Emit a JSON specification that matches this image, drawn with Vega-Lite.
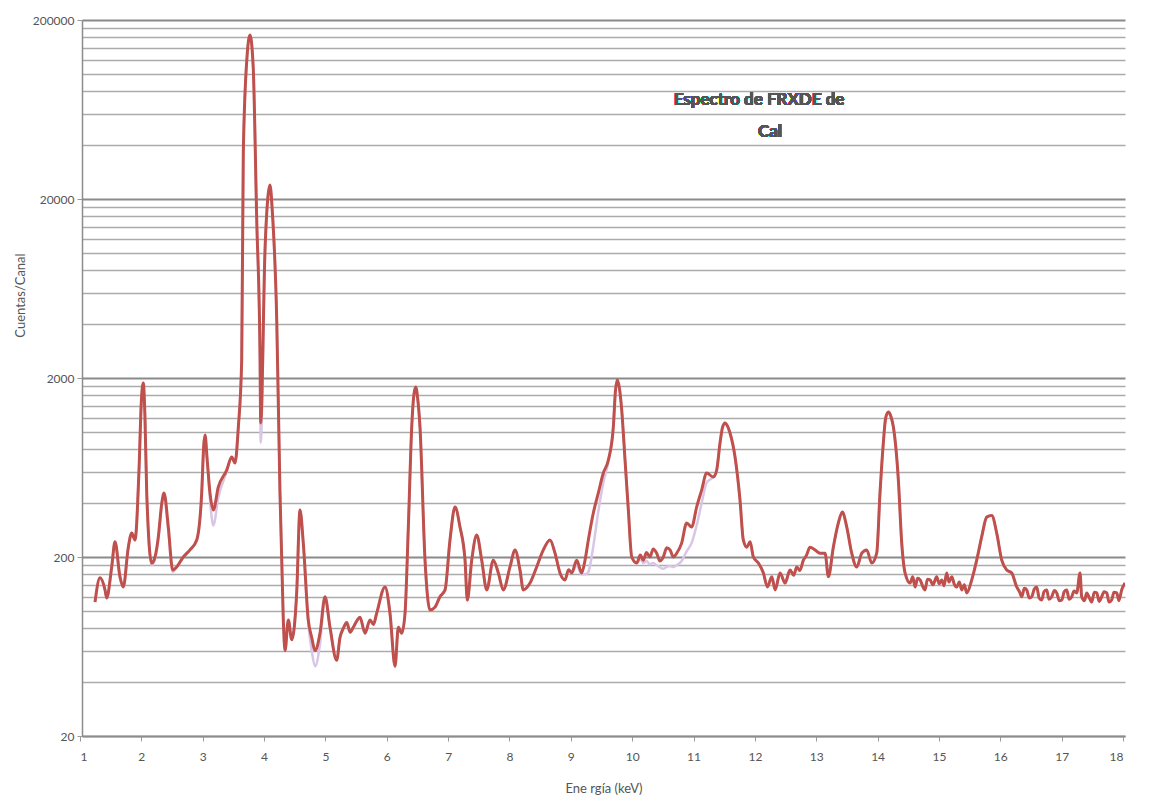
{
  "$schema": "https://vega.github.io/schema/vega-lite/v6.json",
  "autosize": "none",
  "width": 1043,
  "height": 716,
  "padding": {"left": 82, "top": 20, "right": 31, "bottom": 71},
  "background": "white",
  "config": {"view": {"stroke": null}},
  "data": {"values": [
    {"E":1.212,"c":112,"b":112},{"E":1.293,"c":153,"b":153},{"E":1.375,"c":131,"b":131},{"E":1.403,"c":118,"b":118},
    {"E":1.484,"c":176,"b":176},{"E":1.538,"c":243,"b":243},{"E":1.619,"c":155,"b":155},{"E":1.673,"c":136,"b":136},
    {"E":1.755,"c":227,"b":227},{"E":1.810,"c":272,"b":272},{"E":1.864,"c":249,"b":249},{"E":1.929,"c":612,"b":612},
    {"E":1.968,"c":1500,"b":1500},{"E":1.999,"c":1876,"b":1876},{"E":2.025,"c":1250,"b":1250},{"E":2.055,"c":456,"b":456},
    {"E":2.136,"c":185,"b":180},{"E":2.190,"c":200,"b":195},
    {"E":2.244,"c":259,"b":250},{"E":2.300,"c":400,"b":385},{"E":2.337,"c":456,"b":440},{"E":2.407,"c":294,"b":280},{"E":2.478,"c":169,"b":165},
    {"E":2.544,"c":176,"b":176},{"E":2.651,"c":200,"b":200},{"E":2.760,"c":219,"b":219},{"E":2.870,"c":249,"b":249},
    {"E":2.951,"c":456,"b":456},{"E":2.985,"c":850,"b":850},{"E":3.005,"c":962,"b":962},{"E":3.040,"c":700,"b":700},{"E":3.086,"c":456,"b":420},{"E":3.140,"c":366,"b":300},
    {"E":3.222,"c":492,"b":430},{"E":3.359,"c":612,"b":600},{"E":3.440,"c":724,"b":724},{"E":3.494,"c":670,"b":670},
    {"E":3.548,"c":1064,"b":1064},{"E":3.603,"c":2522,"b":2522},{"E":3.629,"c":36140,"b":36140},{"E":3.690,"c":125000,"b":125000},{"E":3.738,"c":164900,"b":164900},
    {"E":3.790,"c":110000,"b":110000},{"E":3.848,"c":15270,"b":15270},{"E":3.901,"c":2760,"b":2600},{"E":3.913,"c":1122,"b":870},{"E":3.983,"c":10380,"b":10380},
    {"E":4.030,"c":20500,"b":20500},{"E":4.064,"c":23940,"b":23940},{"E":4.100,"c":17500,"b":17500},{"E":4.174,"c":4220,"b":4220},{"E":4.227,"c":456,"b":456},{"E":4.281,"c":89,"b":89},
    {"E":4.309,"c":60,"b":60},{"E":4.363,"c":89,"b":89},{"E":4.418,"c":69,"b":69},{"E":4.499,"c":126,"b":126},
    {"E":4.553,"c":366,"b":366},{"E":4.607,"c":239,"b":239},{"E":4.688,"c":89,"b":85},{"E":4.744,"c":71,"b":60},
    {"E":4.798,"c":60,"b":49},{"E":4.879,"c":75,"b":65},{"E":4.961,"c":120,"b":120},{"E":5.042,"c":81,"b":81},
    {"E":5.151,"c":53,"b":53},{"E":5.205,"c":71,"b":71},{"E":5.260,"c":80,"b":80},{"E":5.315,"c":86,"b":86},
    {"E":5.370,"c":76,"b":76},{"E":5.422,"c":81,"b":81},{"E":5.480,"c":88,"b":88},{"E":5.531,"c":92,"b":92},
    {"E":5.613,"c":75,"b":75},{"E":5.694,"c":89,"b":89},{"E":5.750,"c":84,"b":84},{"E":5.803,"c":97,"b":97},
    {"E":5.939,"c":136,"b":136},{"E":6.020,"c":97,"b":97},{"E":6.102,"c":49,"b":49},{"E":6.156,"c":81,"b":81},
    {"E":6.211,"c":75,"b":75},{"E":6.265,"c":97,"b":97},{"E":6.319,"c":294,"b":294},{"E":6.374,"c":1064,"b":1064},
    {"E":6.410,"c":1620,"b":1620},{"E":6.439,"c":1782,"b":1782},{"E":6.470,"c":1550,"b":1550},{"E":6.509,"c":1064,"b":1064},{"E":6.591,"c":192,"b":192},{"E":6.672,"c":101,"b":101},
    {"E":6.754,"c":105,"b":105},{"E":6.835,"c":120,"b":120},{"E":6.917,"c":131,"b":131},{"E":6.998,"c":249,"b":249},
    {"E":7.080,"c":380,"b":380},{"E":7.161,"c":294,"b":294},{"E":7.243,"c":192,"b":192},{"E":7.280,"c":115,"b":115},
    {"E":7.352,"c":192,"b":192},{"E":7.434,"c":265,"b":265},{"E":7.515,"c":192,"b":192},{"E":7.597,"c":131,"b":131},
    {"E":7.704,"c":192,"b":192},{"E":7.786,"c":163,"b":163},{"E":7.867,"c":131,"b":131},{"E":7.976,"c":176,"b":176},
    {"E":8.058,"c":219,"b":219},{"E":8.139,"c":169,"b":169},{"E":8.193,"c":131,"b":131},{"E":8.302,"c":143,"b":143},
    {"E":8.411,"c":176,"b":176},{"E":8.519,"c":219,"b":219},{"E":8.628,"c":249,"b":249},{"E":8.710,"c":210,"b":210},
    {"E":8.791,"c":163,"b":163},{"E":8.873,"c":149,"b":149},{"E":8.930,"c":170,"b":170},{"E":8.982,"c":163,"b":163},
    {"E":9.063,"c":192,"b":180},{"E":9.145,"c":163,"b":160},{"E":9.199,"c":192,"b":160},{"E":9.253,"c":249,"b":165},
    {"E":9.334,"c":352,"b":230},{"E":9.416,"c":456,"b":360},{"E":9.497,"c":589,"b":520},{"E":9.579,"c":696,"b":680},
    {"E":9.660,"c":1064,"b":1064},{"E":9.695,"c":1700,"b":1700},{"E":9.725,"c":1948,"b":1948},{"E":9.760,"c":1750,"b":1750},{"E":9.797,"c":1324,"b":1324},{"E":9.851,"c":696,"b":696},
    {"E":9.905,"c":366,"b":366},{"E":9.960,"c":200,"b":200},{"E":10.042,"c":185,"b":185},{"E":10.100,"c":205,"b":195},
    {"E":10.149,"c":192,"b":185},{"E":10.200,"c":212,"b":190},{"E":10.258,"c":200,"b":182},{"E":10.310,"c":222,"b":185},
    {"E":10.367,"c":210,"b":180},{"E":10.420,"c":190,"b":175},{"E":10.475,"c":200,"b":172},{"E":10.530,"c":225,"b":176},
    {"E":10.584,"c":219,"b":178},{"E":10.640,"c":200,"b":176},{"E":10.693,"c":210,"b":180},{"E":10.774,"c":239,"b":190},
    {"E":10.855,"c":310,"b":215},{"E":10.937,"c":294,"b":240},{"E":11.018,"c":380,"b":300},{"E":11.100,"c":473,"b":400},
    {"E":11.181,"c":589,"b":520},{"E":11.289,"c":560,"b":560},{"E":11.345,"c":612,"b":612},{"E":11.399,"c":867,"b":867},
    {"E":11.440,"c":1060,"b":1060},{"E":11.481,"c":1122,"b":1122},{"E":11.520,"c":1080,"b":1080},{"E":11.562,"c":986,"b":986},{"E":11.644,"c":724,"b":724},{"E":11.725,"c":416,"b":416},
    {"E":11.779,"c":249,"b":249},{"E":11.835,"c":227,"b":227},{"E":11.889,"c":243,"b":243},{"E":11.943,"c":200,"b":200},
    {"E":12.024,"c":185,"b":185},{"E":12.106,"c":163,"b":163},{"E":12.171,"c":136,"b":136},{"E":12.243,"c":155,"b":155},
    {"E":12.297,"c":131,"b":131},{"E":12.378,"c":163,"b":163},{"E":12.459,"c":143,"b":143},{"E":12.540,"c":169,"b":169},
    {"E":12.600,"c":158,"b":158},{"E":12.650,"c":176,"b":176},{"E":12.700,"c":168,"b":168},{"E":12.758,"c":192,"b":192},
    {"E":12.810,"c":205,"b":205},{"E":12.866,"c":227,"b":227},{"E":12.948,"c":219,"b":219},{"E":13.029,"c":210,"b":210},
    {"E":13.111,"c":210,"b":210},{"E":13.165,"c":155,"b":155},{"E":13.246,"c":227,"b":227},{"E":13.328,"c":310,"b":310},
    {"E":13.393,"c":357,"b":357},{"E":13.465,"c":294,"b":294},{"E":13.546,"c":210,"b":210},{"E":13.628,"c":176,"b":176},
    {"E":13.710,"c":210,"b":210},{"E":13.790,"c":219,"b":219},{"E":13.872,"c":185,"b":185},{"E":13.953,"c":210,"b":210},
    {"E":14.007,"c":456,"b":456},{"E":14.061,"c":867,"b":867},{"E":14.100,"c":1200,"b":1200},{"E":14.143,"c":1291,"b":1291},{"E":14.185,"c":1220,"b":1220},{"E":14.225,"c":1064,"b":1064},
    {"E":14.306,"c":538,"b":538},{"E":14.361,"c":239,"b":239},{"E":14.415,"c":163,"b":163},{"E":14.497,"c":143,"b":143},
    {"E":14.540,"c":155,"b":155},{"E":14.578,"c":136,"b":136},{"E":14.620,"c":152,"b":152},{"E":14.660,"c":149,"b":149},
    {"E":14.700,"c":138,"b":138},{"E":14.741,"c":131,"b":131},{"E":14.780,"c":150,"b":150},{"E":14.822,"c":149,"b":149},
    {"E":14.870,"c":140,"b":140},{"E":14.931,"c":155,"b":155},{"E":14.970,"c":142,"b":142},{"E":15.013,"c":149,"b":149},
    {"E":15.050,"c":138,"b":138},{"E":15.094,"c":163,"b":163},{"E":15.130,"c":145,"b":145},{"E":15.176,"c":155,"b":155},
    {"E":15.220,"c":140,"b":140},{"E":15.257,"c":136,"b":136},{"E":15.300,"c":145,"b":145},{"E":15.339,"c":131,"b":131},
    {"E":15.380,"c":140,"b":140},{"E":15.420,"c":126,"b":126},{"E":15.502,"c":149,"b":149},{"E":15.583,"c":192,"b":192},
    {"E":15.664,"c":259,"b":259},{"E":15.746,"c":334,"b":334},{"E":15.828,"c":341,"b":341},{"E":15.909,"c":272,"b":272},
    {"E":15.991,"c":192,"b":192},{"E":16.072,"c":169,"b":169},{"E":16.154,"c":163,"b":163},{"E":16.235,"c":136,"b":136},
    {"E":16.280,"c":128,"b":128},{"E":16.317,"c":120,"b":120},{"E":16.360,"c":134,"b":134},{"E":16.398,"c":131,"b":131},
    {"E":16.440,"c":118,"b":118},{"E":16.480,"c":120,"b":120},{"E":16.520,"c":132,"b":132},{"E":16.561,"c":136,"b":136},
    {"E":16.600,"c":118,"b":118},{"E":16.643,"c":115,"b":115},{"E":16.680,"c":128,"b":128},{"E":16.724,"c":131,"b":131},
    {"E":16.760,"c":116,"b":116},{"E":16.806,"c":120,"b":120},{"E":16.850,"c":130,"b":130},{"E":16.887,"c":126,"b":126},
    {"E":16.930,"c":114,"b":114},{"E":16.969,"c":115,"b":115},{"E":17.010,"c":128,"b":128},{"E":17.050,"c":131,"b":131},
    {"E":17.090,"c":116,"b":116},{"E":17.132,"c":120,"b":120},{"E":17.170,"c":129,"b":129},{"E":17.213,"c":126,"b":126},
    {"E":17.267,"c":163,"b":163},{"E":17.294,"c":120,"b":120},{"E":17.340,"c":114,"b":114},{"E":17.376,"c":126,"b":126},
    {"E":17.420,"c":118,"b":118},{"E":17.457,"c":112,"b":112},{"E":17.500,"c":127,"b":127},{"E":17.539,"c":126,"b":126},
    {"E":17.580,"c":113,"b":113},{"E":17.620,"c":120,"b":120},{"E":17.660,"c":128,"b":128},{"E":17.702,"c":126,"b":126},
    {"E":17.740,"c":112,"b":112},{"E":17.783,"c":115,"b":115},{"E":17.820,"c":127,"b":127},{"E":17.865,"c":126,"b":126},
    {"E":17.900,"c":114,"b":114},{"E":17.946,"c":131,"b":131},{"E":18.000,"c":143,"b":143}
  ]},
  "layer": [
    {
      "mark": {"type": "line", "color": "#d9c6e6", "strokeWidth": 2.5, "clip": true, "interpolate": "monotone"},
      "encoding": {
        "x": {"field": "E", "type": "quantitative",
          "scale": {"domain": [1, 18], "nice": false, "zero": false},
          "axis": {
            "values": [1,2,3,4,5,6,7,8,9,10,11,12,13,14,15,16,17,18],
            "format": "d",
            "grid": false, "domainColor": "#8c8c8c", "domainWidth": 1.5,
            "tickColor": "#9a9a9a", "tickSize": 5, "tickOffset": -2,
            "labelFont": "Lato", "labelFontSize": 12, "labelColor": "#555555", "labelPadding": 10,
            "title": "Ene rgía (keV)", "titleFont": "Lato", "titleFontSize": 13, "titleFontWeight": "normal",
            "titleColor": "#555555", "titlePadding": 20
          }
        },
        "y": {"field": "b", "type": "quantitative",
          "scale": {"type": "log", "domain": [20, 200000], "nice": false, "zero": false},
          "axis": {
            "values": [20,40,60,80,100,120,140,160,180,200,400,600,800,1000,1200,1400,1600,1800,2000,4000,6000,8000,10000,12000,14000,16000,18000,20000,40000,60000,80000,100000,120000,140000,160000,180000,200000],
            "labelExpr": "indexof([20,200,2000,20000,200000], datum.value) >= 0 ? format(datum.value, 'd') : ''",
            "labelOverlap": false, "labelBound": false,
            "grid": true,
            "gridColor": {"condition": {"test": "indexof([20,200,2000,20000,200000], datum.value) >= 0", "value": "#8a8a8a"}, "value": "#ababab"},
            "gridWidth": {"condition": {"test": "indexof([20,200,2000,20000,200000], datum.value) >= 0", "value": 2}, "value": 1.3},
            "domainColor": "#8c8c8c", "domainWidth": 1.5,
            "tickColor": "#9a9a9a", "tickSize": 5,
            "tickOpacity": {"condition": {"test": "indexof([20,200,2000,20000,200000], datum.value) >= 0", "value": 1}, "value": 0},
            "labelFont": "Lato", "labelFontSize": 12, "labelColor": "#555555", "labelPadding": 3,
            "title": "Cuentas/Canal", "titleFont": "Lato", "titleFontSize": 13, "titleFontWeight": "normal",
            "titleColor": "#555555", "titleX": -62, "titleY": 275, "titleAngle": -90,
            "titleAlign": "center", "titleBaseline": "middle"
          }
        }
      }
    },
    {
      "mark": {"type": "line", "color": "#bf504c", "strokeWidth": 3, "clip": true, "interpolate": "monotone"},
      "encoding": {
        "x": {"field": "E", "type": "quantitative"},
        "y": {"field": "c", "type": "quantitative"}
      }
    },
    {
      "mark": {"type": "text", "text": "Espectro de FRXDE de", "font": "Lato", "fontWeight": "bold", "fontSize": 17, "color": "#555555", "align": "center", "baseline": "middle"},
      "encoding": {
        "x": {"datum": 12.035, "type": "quantitative"},
        "y": {"datum": 71460, "type": "quantitative"}
      }
    },
    {
      "mark": {"type": "text", "text": "Cal", "font": "Lato", "fontWeight": "bold", "fontSize": 17, "color": "#555555", "align": "center", "baseline": "middle"},
      "encoding": {
        "x": {"datum": 12.214, "type": "quantitative"},
        "y": {"datum": 47330, "type": "quantitative"}
      }
    }
  ]
}
